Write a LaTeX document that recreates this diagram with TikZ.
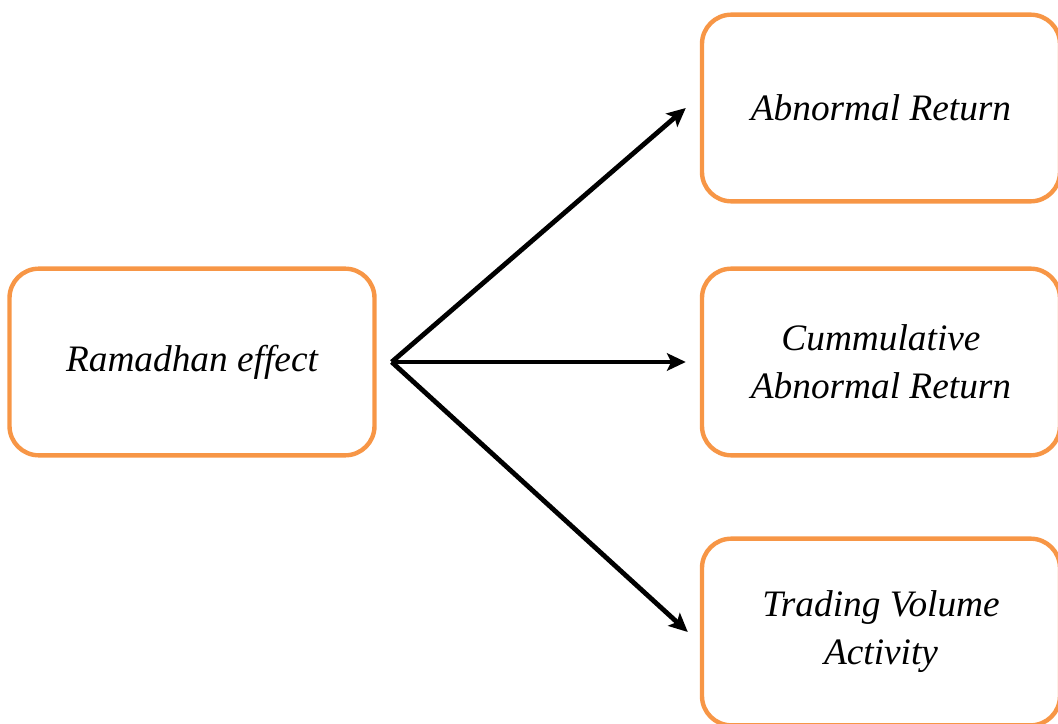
\documentclass[tikz,border=0pt]{standalone}
\usepackage{fontspec}
\setmainfont{Liberation Serif}
\usetikzlibrary{arrows.meta}
\definecolor{boxorange}{HTML}{F79646}
\tikzset{
  effbox/.style={draw=boxorange, line width=3.3pt, rounded corners=22pt,
    minimum width=268.5pt, minimum height=140pt, align=center,
    font=\itshape\fontsize{28}{36}\selectfont},
  effarrow/.style={-{Stealth[length=14pt,width=13pt,inset=3pt]}, line width=3.6pt}
}
\begin{document}
\begin{tikzpicture}[x=0.75pt, y=-0.75pt]
    \clip (0,0) rectangle (1058,724);
    \node[effbox, minimum width=273.75pt] (v1) at (192, 362) {Ramadhan effect};
    \node[effbox] (v2) at (881, 108) {Abnormal Return};
    \node[effbox] (v3) at (881, 362) {Cummulative\\Abnormal Return};
    \node[effbox] (v4) at (881, 632) {Trading Volume\\Activity};
    \coordinate (s) at ([xshift=11.25pt]v1.east);
    \draw[effarrow] (s) -- ([xshift=-10.5pt]v2.west);
    \draw[effarrow] (s) -- ([xshift=-10.5pt]v3.west);
    \draw[effarrow] (s) -- ([xshift=-9pt]v4.west);
    \end{tikzpicture}
\end{document}
